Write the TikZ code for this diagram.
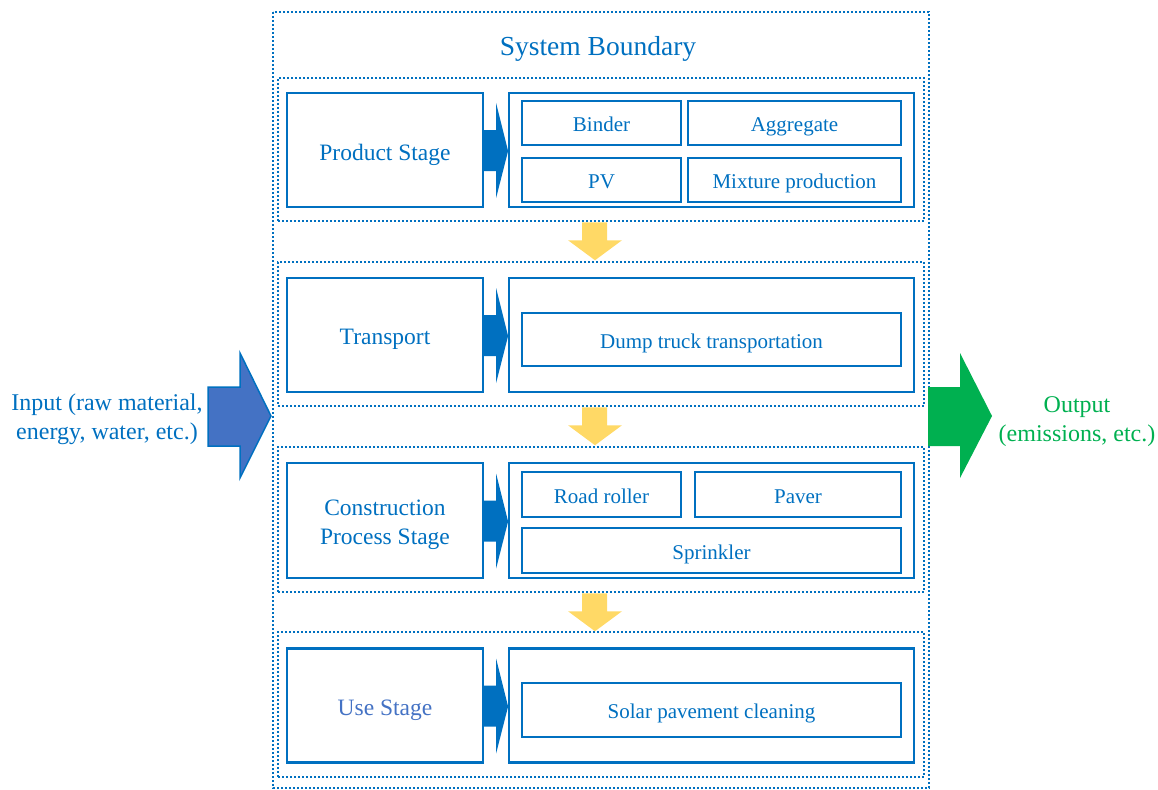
\documentclass[tikz,border=0pt]{standalone}
\usepackage{fontspec}
\setmainfont{Liberation Serif}

\definecolor{lineblue}{HTML}{0070C0}
\definecolor{inblue}{HTML}{4472C4}
\definecolor{outgreen}{HTML}{00B050}
\definecolor{flowyellow}{HTML}{FFD966}

\tikzset{
  dotbox/.style={draw=lineblue, line width=2.5pt, dash pattern=on 2pt off 2pt},
  stagetext/.style={text=lineblue, align=center, font=\fontsize{23.5}{29}\selectfont, yshift=-4.5pt},
  stagebox/.style={draw=lineblue, line width=2.2pt, minimum width=196pt, minimum height=114pt,
    label={[stagetext]center:#1}},
  groupbox/.style={draw=lineblue, line width=2.2pt, minimum width=405pt, minimum height=114pt},
  itembox/.style={draw=lineblue, line width=2pt, text=lineblue, text height=17pt, text depth=0pt,
    font=\fontsize{21}{25}\selectfont},
}

\begin{document}
\begin{tikzpicture}[x=1pt,y=-1pt]
        \useasboundingbox (0,0) rectangle (1158,789);

        % system boundary and the four stage frames
        \draw[dotbox] (273,12) rectangle (929,788);
        \node[text=lineblue, font=\fontsize{27.5}{32}\selectfont] (title) at (598,49) {System Boundary};
        \node[dotbox, minimum width=646pt, minimum height=143pt] (s1) at (601,149.5) {};
        \node[dotbox, minimum width=646pt, minimum height=144pt] (s2) at (601,334) {};
        \node[dotbox, minimum width=646pt, minimum height=145pt] (s3) at (601,519.5) {};
        \node[dotbox, minimum width=646pt, minimum height=145pt] (s4) at (601,704.5) {};

        % stage names
        \node[stagebox={Product Stage}] (ps) at (385,150) {};
        \node[stagebox={Transport}] (tr) at (385,335) {};
        \node[stagebox={Construction\\Process Stage}, minimum height=115pt] (cp) at (385,520.5) {};
        \node[stagebox={\textcolor{inblue}{Use Stage}}] (us) at (385,705.5) {};

        % processes of each stage
        \node[groupbox] (psg) at (711.5,150) {};
        \node[groupbox] (trg) at (711.5,335) {};
        \node[groupbox, minimum height=115pt] (cpg) at (711.5,520.5) {};
        \node[groupbox] (usg) at (711.5,705.5) {};

        \node[itembox, minimum width=159pt, minimum height=44pt] (binder) at (601.5,123) {Binder};
        \node[itembox, minimum width=213pt, minimum height=44pt] (aggr) at (794.5,123) {Aggregate};
        \node[itembox, minimum width=159pt, minimum height=44pt] (pv) at (601.5,180) {PV};
        \node[itembox, minimum width=213pt, minimum height=44pt] (mix) at (794.5,180) {Mixture production};
        \node[itembox, minimum width=379pt, minimum height=53pt] (truck) at (711.5,339.5) {Dump truck transportation};
        \node[itembox, minimum width=159pt, minimum height=45pt] (roller) at (601.5,494.5) {Road roller};
        \node[itembox, minimum width=206pt, minimum height=45pt] (paver) at (798,494.5) {Paver};
        \node[itembox, minimum width=379pt, minimum height=45pt] (sprink) at (711.5,550.5) {Sprinkler};
        \node[itembox, minimum width=379pt, minimum height=54pt] (clean) at (711.5,710) {Solar pavement cleaning};

        % block arrows from stage name to its processes
        \foreach \s in {ps,tr,cp,us}
          \fill[lineblue, shift={(\s.east)}] (0,-20) -- (12,-20) -- (12,-47) -- (24,1)
            -- (12,48) -- (12,21) -- (0,21) -- cycle;

        % flow from one stage to the next
        \foreach \s in {s1,s2,s3}
          \fill[flowyellow, shift={(\s.south)}] (-19,0) -- (6,0) -- (6,18) -- (21,18)
            -- (-6,38) -- (-33,18) -- (-19,18) -- cycle;

        % input and output
        \draw[fill=inblue, draw=lineblue, line width=1.5pt] (208,387) -- (240,387) -- (240,353)
          -- (271,416) -- (240,478) -- (240,446) -- (208,446) -- cycle;
        \fill[outgreen] (928,387) -- (960,387) -- (960,353) -- (992,416) -- (960,478)
          -- (960,446) -- (928,446) -- cycle;
        \node[text=lineblue, align=center, font=\fontsize{24}{29}\selectfont] (input) at (107,419)
          {Input (raw material,\\energy, water, etc.)};
        \node[text=outgreen, align=center, font=\fontsize{24}{29}\selectfont] (output) at (1077,421.5)
          {Output\\(emissions, etc.)};
    \end{tikzpicture}
\end{document}
